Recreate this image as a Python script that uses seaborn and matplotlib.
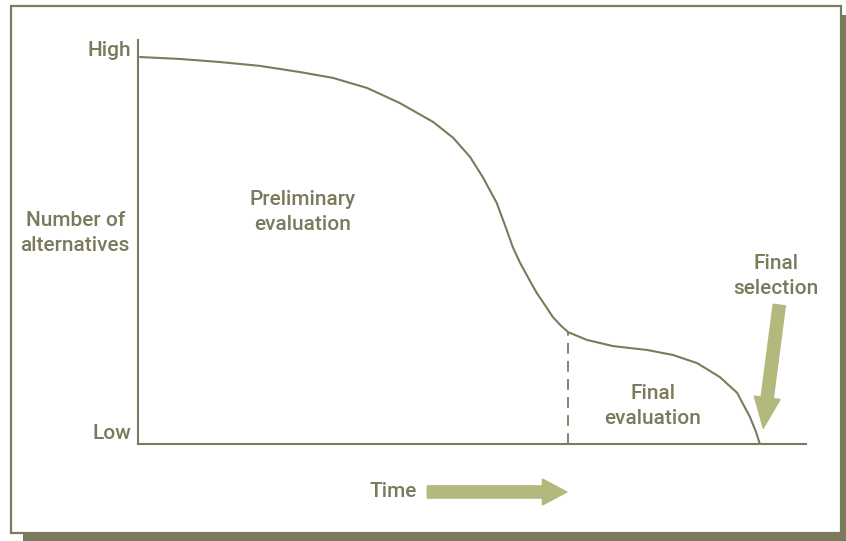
import numpy as np
import pandas as pd
import matplotlib
matplotlib.use("Agg")
import matplotlib.pyplot as plt
import seaborn as sns
from matplotlib.patches import Rectangle, FancyArrowPatch

# curve (time 0-100, alternatives 0-100)
time = [0.3, 6.3, 12.3, 18.3, 24.3, 29.2, 34.3, 39.2, 44.2, 47.2, 49.7, 51.6,
        53.7, 55.2, 56.1, 57.2, 58.5, 59.7, 61.0, 62.1, 63.3, 64.4, 67.2,
        71.1, 76.2, 80.1, 83.7, 87.1, 89.7, 91.6, 92.5, 93.0, 93.1]
alternatives = [100, 99.5, 98.7, 97.7, 96.1, 94.6, 92.0, 88.1, 83.2, 79.1, 74.2,
                69.0, 62.3, 55.3, 50.9, 46.8, 42.7, 39.0, 35.7, 32.8, 30.6,
                28.9, 26.9, 25.3, 24.3, 23.0, 20.9, 17.3, 13.2, 7.0, 3.2,
                0.5, 0.0]
split_time = 64.4
split_level = 28.9

df = pd.DataFrame({"time": time, "alternatives": alternatives})

line_col = "#7b7a5c"
arrow_col = "#b3b87d"

sns.set_theme(style="white")
plt.rcParams["font.family"] = ["Roboto", "DejaVu Sans"]

fig = plt.figure(figsize=(8.46, 5.41), dpi=100)
W, H = 846, 541

# shadow + framed box (behind the axes)
fig.patches.append(Rectangle((23 / W, -0.05), 1.0, 1 - 15 / H + 0.05,
                             transform=fig.transFigure, facecolor=line_col,
                             edgecolor="none", zorder=-2))
fig.patches.append(Rectangle((11 / W, 1 - 533 / H), 830 / W, 527 / H,
                             transform=fig.transFigure, facecolor="white",
                             edgecolor=line_col, linewidth=1.6, zorder=-1))

ax = fig.add_axes([138 / W, 1 - 444 / H, 668 / W, 404 / H])
ax.patch.set_alpha(0)
sns.lineplot(data=df, x="time", y="alternatives", ax=ax, color=line_col,
             linewidth=1.5, sort=False)
ax.plot([split_time, split_time], [0, split_level], color=line_col,
        linewidth=1.3, linestyle=(0, (6, 4)))

ax.set_xlim(0, 100)
ax.set_ylim(0, 104.4)
ax.set_xticks([])
ax.set_yticks([])
ax.set_xlabel("")
ax.set_ylabel("")
for s in ["top", "right"]:
    ax.spines[s].set_visible(False)
for s in ["left", "bottom"]:
    ax.spines[s].set_color(line_col)
    ax.spines[s].set_linewidth(1.5)

fs = 15
tkw = dict(fontsize=fs, color=line_col, fontweight="medium")
ax.text(-1.0, 101.8, "High", ha="right", va="center", **tkw)
ax.text(-1.0, 2.6, "Low", ha="right", va="center", **tkw)
ax.text(-9.4, 54.4, "Number of\nalternatives", ha="center", va="center",
        linespacing=1.4, **tkw)
ax.text(24.7, 60.0, "Preliminary\nevaluation", ha="center", va="center",
        linespacing=1.4, **tkw)
ax.text(77.1, 9.9, "Final\nevaluation", ha="center", va="center",
        linespacing=1.4, **tkw)
ax.text(95.5, 43.3, "Final\nselection", ha="center", va="center",
        linespacing=1.4, **tkw)
ax.text(38.2, -12.4, "Time", ha="center", va="center", clip_on=False, **tkw)

# arrows
ax.add_patch(FancyArrowPatch((43.3, -12.4), (64.2, -12.4),
                             arrowstyle="simple,head_length=1.6,head_width=1.7,tail_width=0.8",
                             mutation_scale=11, color=arrow_col, clip_on=False,
                             shrinkA=0, shrinkB=0))
ax.add_patch(FancyArrowPatch((96.0, 35.9), (93.6, 4.1),
                             arrowstyle="simple,head_length=2.0,head_width=1.7,tail_width=0.8",
                             mutation_scale=11, color=arrow_col, clip_on=False,
                             shrinkA=0, shrinkB=0))

fig.savefig("out.png", dpi=100)
